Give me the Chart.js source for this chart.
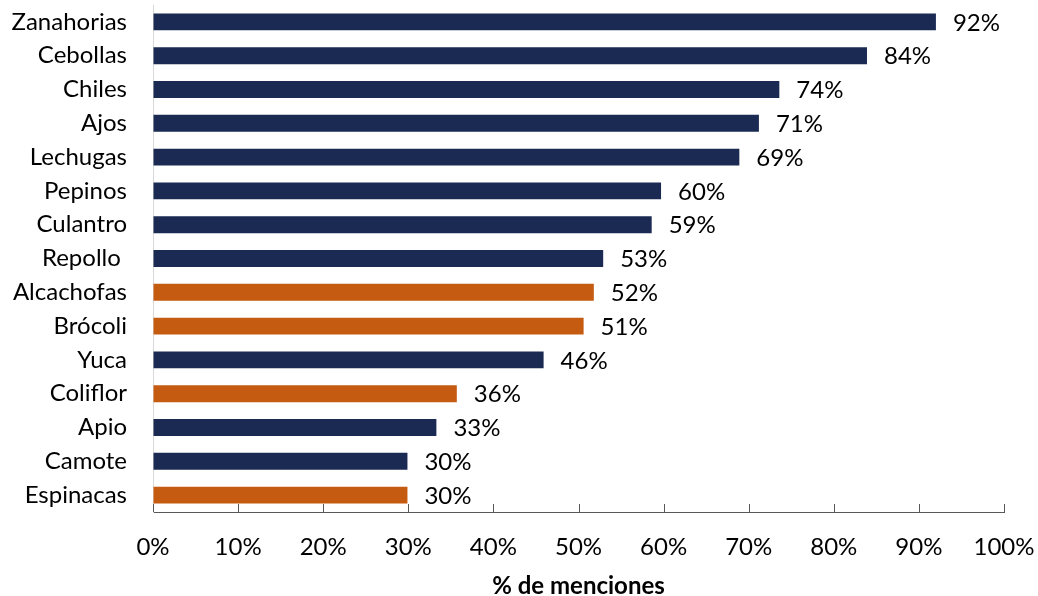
<!DOCTYPE html>
<html>
<head>
<meta charset="utf-8">
<script src="https://cdn.jsdelivr.net/npm/chart.js@4/dist/chart.umd.min.js"></script>
<style>
  html, body { margin: 0; padding: 0; background: #fff; }
  #wrap { width: 1038px; height: 596px; }
</style>
</head>
<body>
<div id="wrap"><canvas id="chart"></canvas></div>
<script>
// Datos
const categorias = ['Zanahorias', 'Cebollas', 'Chiles', 'Ajos', 'Lechugas', 'Pepinos', 'Culantro', 'Repollo ',
  'Alcachofas', 'Brócoli', 'Yuca', 'Coliflor', 'Apio', 'Camote', 'Espinacas'];
const valores = [92.0, 83.9, 73.6, 71.2, 68.9, 59.7, 58.6, 52.9, 51.8, 50.6, 45.9, 35.7, 33.3, 29.9, 29.9];
// 1 = barra resaltada (naranja)
const resaltado = [0, 0, 0, 0, 0, 0, 0, 0, 1, 1, 0, 1, 0, 0, 1];
const ticksX = [0, 10, 20, 30, 40, 50, 60, 70, 80, 90, 100];

const AZUL = '#1B2A52';
const NARANJA = '#C55A11';
const FUENTE = 'Lato';

// etiquetas de valor al final de cada barra
const etiquetasValor = {
  id: 'etiquetasValor',
  afterDatasetsDraw(chart) {
    const ctx = chart.ctx;
    const meta = chart.getDatasetMeta(0);
    ctx.save();
    ctx.font = '24px ' + FUENTE;
    ctx.fillStyle = '#000';
    ctx.textAlign = 'left';
    ctx.textBaseline = 'middle';
    meta.data.forEach((bar, i) => {
      ctx.fillText(Math.round(valores[i]) + '%', bar.x + 17, bar.y + 1);
    });
    ctx.restore();
  }
};

// marcas del eje X hacia adentro
const marcasInternas = {
  id: 'marcasInternas',
  afterDraw(chart) {
    const s = chart.scales.x;
    const ctx = chart.ctx;
    ctx.save();
    ctx.strokeStyle = '#595959';
    ctx.lineWidth = 1;
    ctx.beginPath();
    ticksX.forEach(v => {
      const x = Math.round(s.getPixelForValue(v)) + 0.5;
      ctx.moveTo(x, s.top);
      ctx.lineTo(x, s.top - 8);
    });
    ctx.stroke();
    ctx.restore();
  }
};

new Chart(document.getElementById('chart'), {
  type: 'bar',
  data: {
    labels: categorias,
    datasets: [{
      data: valores,
      backgroundColor: resaltado.map(r => r ? NARANJA : AZUL),
      barPercentage: 0.5,
      categoryPercentage: 1
    }]
  },
  options: {
    indexAxis: 'y',
    responsive: true,
    maintainAspectRatio: false,
    animation: false,
    layout: { padding: { top: 5, right: 34, bottom: 0, left: 0 } },
    plugins: { legend: { display: false }, tooltip: { enabled: false } },
    scales: {
      x: {
        min: 0,
        max: 100,
        afterBuildTicks: s => { s.ticks = ticksX.map(v => ({ value: v })); },
        afterFit: s => { s.height = 84; s.paddingLeft = 0; s.paddingRight = 0; },
        ticks: {
          callback: v => v + '%',
          color: '#000',
          font: { family: FUENTE, size: 24 },
          padding: 21,
          maxRotation: 0
        },
        grid: { drawOnChartArea: false, drawTicks: false },
        border: { display: true, color: '#595959', width: 1 },
        title: {
          display: true,
          text: '% de menciones',
          color: '#000',
          font: { family: FUENTE, size: 24, weight: 'bold', lineHeight: 0.85 },
          padding: 0
        }
      },
      y: {
        afterFit: s => { s.width = 153; s.paddingTop = 0; s.paddingBottom = 0; },
        ticks: {
          color: '#000',
          font: { family: FUENTE, size: 24 },
          padding: 26
        },
        grid: { drawOnChartArea: false, drawTicks: false },
        border: { display: true, color: '#D9D9D9', width: 1 }
      }
    }
  },
  plugins: [etiquetasValor, marcasInternas]
});
</script>
</body>
</html>
